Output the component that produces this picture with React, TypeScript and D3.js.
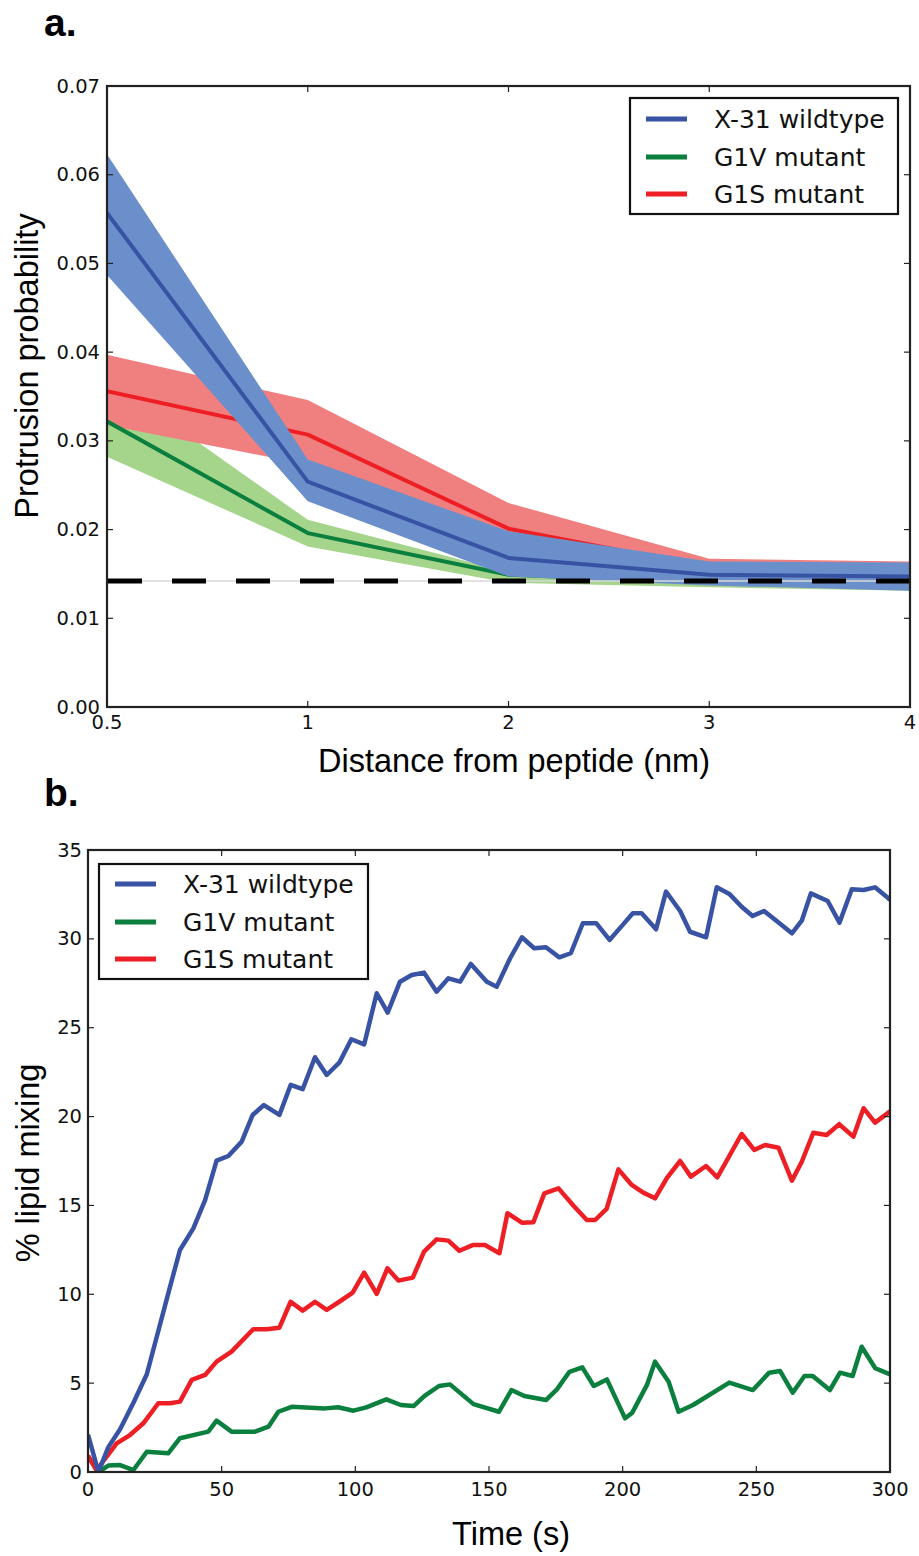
import React from 'react';
import * as d3 from 'd3';

// ---------- Panel a data ----------
const distances = ['0.5', '1', '2', '3', '4'];
const wtMean = [0.0557, 0.0254, 0.0168, 0.0149, 0.0147];
const wtUpper = [0.0623, 0.0279, 0.0198, 0.0164, 0.0163];
const wtLower = [0.0487, 0.0232, 0.0147, 0.0137, 0.0131];
const g1vMean = [0.0322, 0.0196, 0.0149, 0.0141, 0.0139];
const g1vUpper = [0.0371, 0.0211, 0.0152, 0.0144, 0.0142];
const g1vLower = [0.0282, 0.0181, 0.0140, 0.0135, 0.0131];
const g1sMean = [0.0356, 0.0307, 0.0201, 0.0157, 0.0153];
const g1sUpper = [0.0397, 0.0346, 0.0230, 0.0167, 0.0164];
const g1sLower = [0.0318, 0.0273, 0.0175, 0.0145, 0.0142];
const baselineA = 0.0142;
const yTicksA = [0, 0.01, 0.02, 0.03, 0.04, 0.05, 0.06, 0.07];

// ---------- Panel b data ----------
const wtTime = [0, 3.9, 7.6, 12, 17, 22, 30.7, 34.4, 39.4, 43.8, 48.1, 52.5, 57.5, 61.6, 65.8, 71.6, 75.8, 80.3, 84.9, 89.3, 94.0, 98.5, 103.3, 108, 112.1, 116.7, 121.1, 125.7, 130.4, 134.8, 139.2, 143.2, 149.2, 152.9, 157.9, 162.3, 166.9, 171.3, 176.3, 180.6, 185.1, 190.1, 195.1, 199.7, 203.8, 207.1, 212.5, 216.2, 221.5, 225.2, 231.2, 235.2, 239.9, 244.5, 248.6, 252.9, 257.6, 263.3, 267, 270.4, 276.7, 281.1, 285.7, 290.1, 294.4, 299.4, 300];
const wtMix = [2.1, 0.0, 1.4, 2.4, 3.9, 5.5, 10.43, 12.49, 13.71, 15.3, 17.52, 17.78, 18.59, 20.09, 20.65, 20.09, 21.78, 21.54, 23.34, 22.34, 23.03, 24.35, 24.06, 26.94, 25.85, 27.59, 27.97, 28.1, 27.03, 27.78, 27.59, 28.59, 27.59, 27.31, 28.91, 30.09, 29.47, 29.53, 28.96, 29.19, 30.88, 30.88, 29.94, 30.73, 31.44, 31.44, 30.54, 32.66, 31.57, 30.4, 30.09, 32.9, 32.53, 31.81, 31.29, 31.57, 31.0, 30.31, 31.02, 32.56, 32.13, 30.91, 32.79, 32.75, 32.9, 32.28, 32.2];

const g1sTime = [0, 3.2, 10.7, 15.7, 20.7, 26.3, 30.7, 34.4, 38.8, 43.8, 48.1, 53.7, 61.8, 66.8, 71.6, 75.8, 80.3, 84.9, 89.3, 94.0, 99.0, 103.3, 108, 112, 116.1, 121.5, 125.7, 130.4, 134.8, 138.9, 143.9, 148.5, 153.9, 156.9, 162.3, 166.6, 170.7, 176, 181.7, 186.6, 189.7, 194, 198.4, 203.4, 207.7, 212.1, 216.5, 221.5, 225.5, 231.2, 235.4, 244.5, 249.2, 253.3, 258.3, 263.3, 267, 271.3, 276.3, 281, 286.3, 290.1, 294.4, 299.4, 300];
const g1sMix = [0.9, 0.1, 1.61, 2.08, 2.74, 3.87, 3.87, 3.96, 5.18, 5.46, 6.21, 6.77, 8.03, 8.03, 8.12, 9.58, 9.08, 9.58, 9.12, 9.58, 10.09, 11.22, 10.02, 11.46, 10.77, 10.94, 12.4, 13.09, 13.02, 12.45, 12.77, 12.77, 12.31, 14.56, 14.03, 14.05, 15.68, 15.96, 14.97, 14.18, 14.18, 14.81, 17.03, 16.15, 15.72, 15.4, 16.53, 17.5, 16.62, 17.22, 16.58, 19.02, 18.12, 18.4, 18.25, 16.39, 17.46, 19.09, 18.96, 19.57, 18.87, 20.47, 19.66, 20.22, 20.3];

const g1vTime = [0, 3.9, 7.6, 12, 17, 22, 30, 34.4, 45, 48.1, 53.7, 62.5, 67.5, 71.2, 76.2, 88.7, 93.6, 99.3, 104.1, 111.6, 117, 121.8, 125.9, 131.3, 135.4, 144.2, 153.7, 158.4, 163.2, 171.3, 175.4, 180.1, 184.9, 189.2, 194.1, 200.9, 203.6, 209.1, 212.1, 217.2, 220.9, 226.3, 239.9, 248.7, 254.8, 258.9, 263.6, 268, 271.1, 277.5, 281.3, 286, 289.4, 294.5, 299.6, 300];
const g1vMix = [0.9, 0.0, 0.36, 0.39, 0.11, 1.14, 1.05, 1.9, 2.27, 2.89, 2.27, 2.27, 2.55, 3.39, 3.67, 3.58, 3.64, 3.45, 3.64, 4.09, 3.77, 3.71, 4.28, 4.84, 4.93, 3.82, 3.39, 4.61, 4.28, 4.05, 4.65, 5.64, 5.89, 4.84, 5.21, 3.02, 3.34, 4.9, 6.21, 5.08, 3.39, 3.77, 5.03, 4.61, 5.59, 5.68, 4.46, 5.4, 5.4, 4.61, 5.59, 5.4, 7.05, 5.84, 5.52, 5.5];

const xTicksB = [0, 50, 100, 150, 200, 250, 300];
const yTicksB = [0, 5, 10, 15, 20, 25, 30, 35];
const seriesNames = ['X-31 wildtype', 'G1V mutant', 'G1S mutant'];

// ---------- styles ----------
const BLUE = '#3953a4';
const BLUE_FILL = '#6b8fcb';
const GREEN = '#0b7f3d';
const GREEN_FILL = '#a5d48b';
const RED = '#ed1f24';
const RED_FILL = '#f08080';
const AXIS = '#222';
const TICK_FONT = '"DejaVu Sans", Verdana, sans-serif';
const LABEL_FONT = '"Liberation Sans", Arial, Helvetica, sans-serif';
const LABEL_SIZE = 32.5;
const lineColors = [BLUE, GREEN, RED];

const TICK_LEN = 6;

function Legend({ x, y, w, h, rows }: { x: number; y: number; w: number; h: number; rows: number[] }) {
  return (
    <g>
      <rect x={x} y={y} width={w} height={h} fill="white" stroke="#111" strokeWidth={2.2} />
      {seriesNames.map((name, i) => (
        <g key={name}>
          <line x1={x + 16} x2={x + 57} y1={rows[i]} y2={rows[i]} stroke={lineColors[i]} strokeWidth={5} />
          <text x={x + 84} y={rows[i]} dominantBaseline="central" fontFamily={TICK_FONT} fontSize={25} fill="#111">
            {name}
          </text>
        </g>
      ))}
    </g>
  );
}

function PanelA() {
  const L = 107, R = 910, T = 86, B = 707;
  const x = d3.scalePoint<string>().domain(distances).range([L, R]);
  const y = d3.scaleLinear().domain([0, 0.07]).range([B, T]);
  const band = (lo: number[], hi: number[]) =>
    d3.area<number>()
      .x((_, i) => x(distances[i]) as number)
      .y0((_, i) => y(lo[i]))
      .y1((_, i) => y(hi[i]))(lo) as string;
  const line = (v: number[]) =>
    d3.line<number>().x((_, i) => x(distances[i]) as number).y((d) => y(d))(v) as string;

  return (
    <g>
      <defs>
        <clipPath id="clipA">
          <rect x={L} y={T} width={R - L} height={B - T} />
        </clipPath>
      </defs>
      <g clipPath="url(#clipA)">
        <path d={band(g1vLower, g1vUpper)} fill={GREEN_FILL} />
        <path d={band(g1sLower, g1sUpper)} fill={RED_FILL} />
        <path d={line(g1vMean)} fill="none" stroke={GREEN} strokeWidth={4} strokeLinejoin="round" />
        <path d={line(g1sMean)} fill="none" stroke={RED} strokeWidth={4} strokeLinejoin="round" />
        <path d={band(wtLower, wtUpper)} fill={BLUE_FILL} />
        <path d={line(wtMean)} fill="none" stroke={BLUE} strokeWidth={4} strokeLinejoin="round" />
        <line x1={L} x2={R} y1={y(baselineA)} y2={y(baselineA)} stroke="#d8d8d8" strokeWidth={1.5} />
        <line x1={L} x2={R} y1={y(baselineA)} y2={y(baselineA)} stroke="#000" strokeWidth={5} strokeDasharray="34 30" strokeDashoffset={-1} />
      </g>
      {yTicksA.map((t) => (
        <g key={'ya' + t}>
          <line x1={L} x2={L + TICK_LEN} y1={y(t)} y2={y(t)} stroke={AXIS} strokeWidth={1.2} />
          <line x1={R} x2={R - TICK_LEN} y1={y(t)} y2={y(t)} stroke={AXIS} strokeWidth={1.2} />
          <text x={L - 7} y={y(t)} textAnchor="end" dominantBaseline="central" fontFamily={TICK_FONT} fontSize={19.5} fill="#111">
            {d3.format('.2f')(t)}
          </text>
        </g>
      ))}
      {distances.map((d) => (
        <g key={'xa' + d}>
          <line x1={x(d)} x2={x(d)} y1={B} y2={B - TICK_LEN} stroke={AXIS} strokeWidth={1.2} />
          <line x1={x(d)} x2={x(d)} y1={T} y2={T + TICK_LEN} stroke={AXIS} strokeWidth={1.2} />
          <text x={x(d)} y={B + 15} textAnchor="middle" dominantBaseline="central" fontFamily={TICK_FONT} fontSize={19.5} fill="#111">
            {d}
          </text>
        </g>
      ))}
      <rect x={L} y={T} width={R - L} height={B - T} fill="none" stroke={AXIS} strokeWidth={2.2} />
      <Legend x={630} y={98} w={268} h={116} rows={[119, 157, 194]} />
      <text x={514} y={772} textAnchor="middle" fontFamily={LABEL_FONT} fontSize={LABEL_SIZE} fill="#000">
        Distance from peptide (nm)
      </text>
      <text transform={`translate(38,366) rotate(-90)`} textAnchor="middle" fontFamily={LABEL_FONT} fontSize={LABEL_SIZE} fill="#000">
        Protrusion probability
      </text>
      <text x={44} y={36} fontFamily={LABEL_FONT} fontWeight="bold" fontSize={39} fill="#000">
        a.
      </text>
    </g>
  );
}

function PanelB() {
  const L = 88, R = 890, T = 850, B = 1472;
  const x = d3.scaleLinear().domain([0, 300]).range([L, R]);
  const y = d3.scaleLinear().domain([0, 35]).range([B, T]);
  const line = (ts: number[], vs: number[]) =>
    d3.line<number>().x((_, i) => x(ts[i])).y((d) => y(d))(vs) as string;

  return (
    <g>
      <defs>
        <clipPath id="clipB">
          <rect x={L} y={T} width={R - L} height={B - T} />
        </clipPath>
      </defs>
      <g clipPath="url(#clipB)">
        <path d={line(g1vTime, g1vMix)} fill="none" stroke={GREEN} strokeWidth={4.5} strokeLinejoin="round" />
        <path d={line(g1sTime, g1sMix)} fill="none" stroke={RED} strokeWidth={4.5} strokeLinejoin="round" />
        <path d={line(wtTime, wtMix)} fill="none" stroke={BLUE} strokeWidth={4.5} strokeLinejoin="round" />
      </g>
      {yTicksB.map((t) => (
        <g key={'yb' + t}>
          <line x1={L} x2={L + TICK_LEN} y1={y(t)} y2={y(t)} stroke={AXIS} strokeWidth={1.2} />
          <line x1={R} x2={R - TICK_LEN} y1={y(t)} y2={y(t)} stroke={AXIS} strokeWidth={1.2} />
          <text x={L - 6} y={y(t)} textAnchor="end" dominantBaseline="central" fontFamily={TICK_FONT} fontSize={19.5} fill="#111">
            {t}
          </text>
        </g>
      ))}
      {xTicksB.map((t) => (
        <g key={'xb' + t}>
          <line x1={x(t)} x2={x(t)} y1={B} y2={B - TICK_LEN} stroke={AXIS} strokeWidth={1.2} />
          <line x1={x(t)} x2={x(t)} y1={T} y2={T + TICK_LEN} stroke={AXIS} strokeWidth={1.2} />
          <text x={x(t)} y={B + 17} textAnchor="middle" dominantBaseline="central" fontFamily={TICK_FONT} fontSize={19.5} fill="#111">
            {t}
          </text>
        </g>
      ))}
      <rect x={L} y={T} width={R - L} height={B - T} fill="none" stroke={AXIS} strokeWidth={2.2} />
      <Legend x={99} y={864} w={269} h={115} rows={[884, 922, 959]} />
      <text x={511} y={1545} textAnchor="middle" fontFamily={LABEL_FONT} fontSize={LABEL_SIZE} fill="#000">
        Time (s)
      </text>
      <text transform={`translate(39,1163) rotate(-90)`} textAnchor="middle" fontFamily={LABEL_FONT} fontSize={LABEL_SIZE} fill="#000">
        % lipid mixing
      </text>
      <text x={44} y={806} fontFamily={LABEL_FONT} fontWeight="bold" fontSize={39} fill="#000">
        b.
      </text>
    </g>
  );
}

export default function App() {
  return (
    <svg
      width={919}
      height={1556}
      viewBox="0 0 919 1556"
      style={{ position: 'absolute', left: 0, top: 0, background: 'white' }}
    >
      <rect x={0} y={0} width={919} height={1556} fill="white" />
      <PanelA />
      <PanelB />
    </svg>
  );
}
